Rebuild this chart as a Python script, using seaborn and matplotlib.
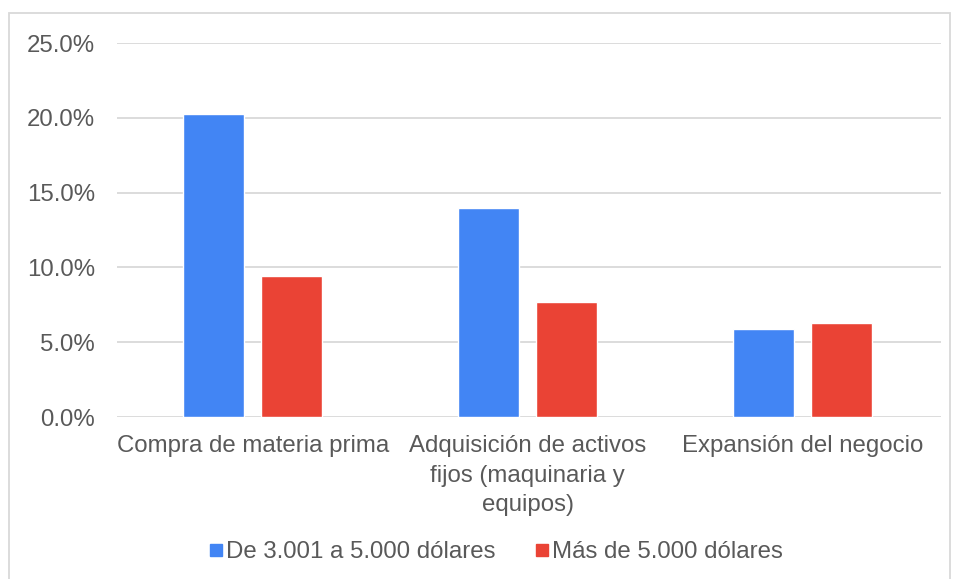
import matplotlib
matplotlib.use("Agg")
import matplotlib.pyplot as plt
import seaborn as sns
import pandas as pd
from matplotlib.patches import Rectangle
from matplotlib.lines import Line2D

categories = ["Compra de materia prima",
              "Adquisición de activos\nfijos (maquinaria y\nequipos)",
              "Expansión del negocio"]
series_names = ["De 3.001 a 5.000 dólares", "Más de 5.000 dólares"]
values_a = [20.25, 13.97, 5.88]
values_b = [9.43, 7.69, 6.28]
yticks = [0, 5, 10, 15, 20, 25]
colors = ["#4285F4", "#EA4335"]

df = pd.DataFrame({
    "cat": categories * 2,
    "serie": [series_names[0]] * 3 + [series_names[1]] * 3,
    "val": values_a + values_b,
})

sns.set_theme(style="white")
plt.rcParams["font.family"] = ["Liberation Sans", "DejaVu Sans"]

W, H = 957, 579
fig = plt.figure(figsize=(W / 100, H / 100), dpi=100)
ax = fig.add_axes([117 / W, (H - 417) / H, (941 - 117) / W, (417 - 43) / H])

sns.barplot(data=df, x="cat", y="val", hue="serie", palette=colors,
            width=0.568, gap=0.218, ax=ax, legend=False, saturation=1)

ax.set_ylim(0, 25)
ax.set_xlim(-0.495, 2.505)
ax.set_yticks(yticks)
ax.set_yticklabels([f"{v:.1f}%" for v in yticks])
ax.yaxis.grid(True, color="#D9D9D9", linewidth=1.3)
ax.set_axisbelow(True)
for s in ax.spines.values():
    s.set_visible(False)
ax.set_xlabel("")
ax.set_ylabel("")
fs = 17.3
ax.tick_params(axis="y", length=0, pad=16, labelsize=fs, labelcolor="#595959")
ax.tick_params(axis="x", length=0, pad=13, labelsize=fs, labelcolor="#595959")
for lbl in ax.get_xticklabels():
    lbl.set_linespacing(1.45)

handles = [Line2D([0], [0], marker="s", linestyle="", markersize=9,
                  markerfacecolor=c, markeredgecolor=c) for c in colors]
fig.legend(handles, series_names, loc="center", ncol=2,
           bbox_to_anchor=(495 / W, (H - 552) / H), frameon=False,
           fontsize=fs, labelcolor="#595959", handletextpad=0.05,
           columnspacing=1.6, handlelength=0.7)

fig.patches.append(Rectangle((9 / W, -0.01), (950 - 9) / W, (H - 13) / H + 0.01,
                             transform=fig.transFigure, fill=False,
                             edgecolor="#D9D9D9", linewidth=1.3))

fig.savefig("out.png", dpi=100, facecolor="white")
